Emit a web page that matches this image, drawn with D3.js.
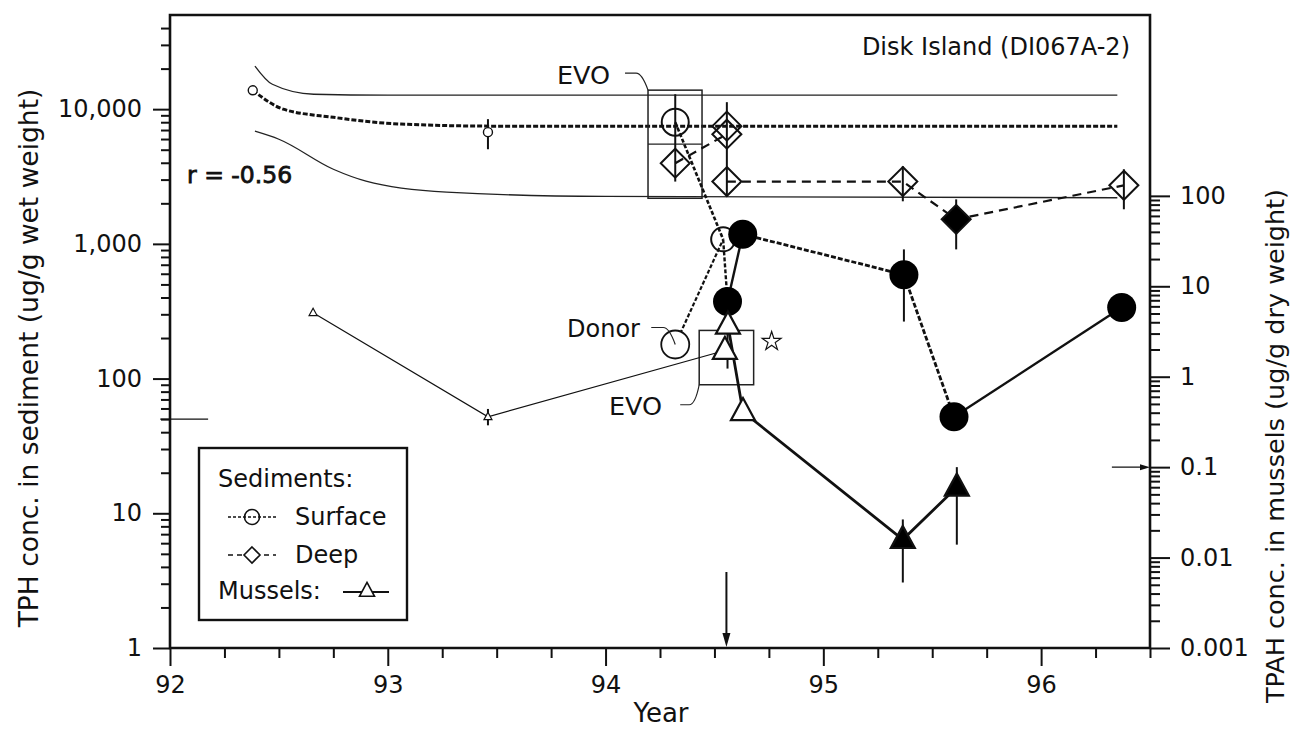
<!DOCTYPE html>
<html>
<head>
<meta charset="utf-8">
<script src="https://cdnjs.cloudflare.com/ajax/libs/d3/7.8.5/d3.min.js"></script>
<style>
body { margin: 0; background: #fff; }
text { font-family: "DejaVu Sans", "Liberation Sans", Arial, sans-serif; fill: #111; }
</style>
</head>
<body>
<svg id="chart" width="1293" height="729"></svg>
<script>
// axes
var xTicks = [92, 93, 94, 95, 96];
var leftTicks = [1, 10, 100, 1000, 10000];
var leftLabels = ["1", "10", "100", "1,000", "10,000"];
var rightTicks = [0.001, 0.01, 0.1, 1, 10, 100];
var rightLabels = ["0.001", "0.01", "0.1", "1", "10", "100"];

// TPH regression fit and confidence band
var fitYears = [92.38, 92.52, 92.75, 93.06, 93.5, 96.35];
var fitValues = [13800, 10000, 8700, 7750, 7480, 7480];
var upperYears = [92.39, 92.47, 92.66, 93.0, 96.35];
var upperValues = [20900, 15300, 12900, 12700, 12700];
var lowerYears = [92.39, 92.5, 92.75, 92.9, 93.27, 94.0, 96.35];
var lowerValues = [6860, 5980, 3580, 2920, 2420, 2250, 2200];

// surface sediments (TPH, left axis)
var smallSurfYears = [92.38, 93.46];
var smallSurfValues = [13800, 6750];
var surfYears = [94.32, 94.54];
var surfValues = [8000, 1080];
var donorYears = [94.32, 94.54];
var donorValues = [179, 1080];
var filledYears = [94.54, 94.56, 94.63, 95.37, 95.60, 96.37];
var filledValues = [1080, 374, 1180, 590, 52, 337];

// deep sediments
var deepYears = [94.32, 94.557, 94.557, 94.557, 95.365, 95.61, 96.38];
var deepValues = [3970, 6520, 7480, 2900, 2900, 1520, 2720];
var deepFilled = [0, 0, 0, 0, 0, 1, 0];
var deepRuns = [[0, 1], [3, 4, 5, 6]];

// mussels (TPAH, right axis)
var musselYears = [92.657, 93.46, 94.548, 94.562, 94.631, 95.365, 95.613];
var musselValues = [5.1, 0.36, 1.95, 3.7, 0.41, 0.0158, 0.06];
var musselFilled = [0, 0, 0, 0, 0, 1, 1];
var musselSmall = [1, 1, 0, 0, 0, 0, 0];
var musselThin = [0, 1, 2];
var musselThick = [3, 4, 5, 6];

// error bars
var sedErrYears = [93.46, 94.32, 94.557, 95.365, 95.61, 96.38, 95.37];
var sedErrLow = [5040, 2900, 2256, 2070, 910, 1806, 265];
var sedErrHigh = [8430, 12900, 11270, 3770, 2140, 3580, 910];
var musErrYears = [93.46, 94.56, 95.365, 95.613];
var musErrLow = [0.29, 1.23, 0.0053, 0.0139];
var musErrHigh = [0.44, 7.0, 0.0264, 0.1];

// EVO boxes
var evoSedBox = { years: [94.195, 94.443], values: [2180, 13840], mid: 5495 };
var evoMusBox = { years: [94.43, 94.68], values: [0.815, 3.25] };

var svg = d3.select("#chart");
var x = d3.scaleLinear().domain([92, 96.5]).range([170, 1150]);
var yL = d3.scaleLog().domain([1, 50000]).range([648, 15]);
var yR = d3.scaleLog().domain([0.001, 10000]).range([648, 15]);

// ---- axes
var minorX = d3.range(92, 96.51, 0.25).filter(function(d) { return d % 1 !== 0; });
svg.append("g").attr("transform", "translate(0,648)")
    .call(d3.axisBottom(x).tickValues(minorX).tickSize(10).tickFormat(""));
svg.append("g").attr("class", "xmaj").attr("transform", "translate(0,648)")
    .call(d3.axisBottom(x).tickValues(xTicks).tickSize(18).tickPadding(10).tickFormat(d3.format("d")));

var minorL = [];
[1, 10, 100, 1000, 10000].forEach(function(dec) {
    for (var m = 2; m <= 9; m++) if (dec * m < 50000) minorL.push(dec * m);
});
svg.append("g").attr("transform", "translate(170,0)")
    .call(d3.axisLeft(yL).tickValues(minorL).tickSize(9).tickFormat(""));
svg.append("g").attr("transform", "translate(170,0)")
    .call(d3.axisLeft(yL).tickValues(leftTicks).tickSize(17).tickPadding(11)
        .tickFormat(function(d, i) { return leftLabels[i]; }));

var minorR = [];
[0.001, 0.01, 0.1, 1, 10].forEach(function(dec) {
    for (var m = 2; m <= 9; m++) minorR.push(dec * m);
});
svg.append("g").attr("transform", "translate(1150,0)")
    .call(d3.axisRight(yR).tickValues(minorR).tickSize(10).tickFormat(""));
svg.append("g").attr("transform", "translate(1150,0)")
    .call(d3.axisRight(yR).tickValues(rightTicks).tickSize(20).tickPadding(10)
        .tickFormat(function(d, i) { return rightLabels[i]; }));

svg.selectAll(".domain").remove();
svg.selectAll(".tick line").attr("stroke", "#111").attr("stroke-width", 2);
svg.selectAll(".tick text").style("font-size", "24px").attr("fill", "#111");

// frame
svg.append("path")
    .attr("d", "M" + x(92) + "," + yL(50000) + "H" + x(96.5) + "V" + yL(1) + "H" + x(92) + "Z")
    .attr("fill", "none").attr("stroke", "#111").attr("stroke-width", 2.6);

// axis titles
svg.append("text").attr("x", 661).attr("y", 722).attr("text-anchor", "middle")
    .style("font-size", "26px").text("Year");
svg.append("text").attr("transform", "translate(38,358) rotate(-90)").attr("text-anchor", "middle")
    .style("font-size", "26.5px").text("TPH conc. in sediment (ug/g wet weight)");
svg.append("text").attr("transform", "translate(1284,446) rotate(-90)").attr("text-anchor", "middle")
    .style("font-size", "25.5px").text("TPAH conc. in mussels (ug/g dry weight)");

// ---- regression and band
var curve = function(ys, vs) {
    return d3.line().curve(d3.curveMonotoneX)
        .x(function(d, i) { return x(ys[i]); })
        .y(function(d, i) { return yL(vs[i]); })(ys);
};
svg.append("path").attr("d", curve(upperYears, upperValues))
    .attr("fill", "none").attr("stroke", "#222").attr("stroke-width", 1.3);
svg.append("path").attr("d", curve(lowerYears, lowerValues))
    .attr("fill", "none").attr("stroke", "#222").attr("stroke-width", 1.3);
svg.append("path").attr("d", curve(fitYears, fitValues))
    .attr("fill", "none").attr("stroke", "#111").attr("stroke-width", 3).attr("stroke-dasharray", "5,2");

// ---- EVO boxes
function box(b, ys) {
    svg.append("rect")
        .attr("x", x(b.years[0])).attr("width", x(b.years[1]) - x(b.years[0]))
        .attr("y", ys(b.values[1])).attr("height", ys(b.values[0]) - ys(b.values[1]))
        .attr("fill", "none").attr("stroke", "#222").attr("stroke-width", 1.5);
    if (b.mid) svg.append("line")
        .attr("x1", x(b.years[0])).attr("x2", x(b.years[1]))
        .attr("y1", ys(b.mid)).attr("y2", ys(b.mid))
        .attr("stroke", "#222").attr("stroke-width", 1.3);
}
box(evoSedBox, yL);
box(evoMusBox, yR);

// ---- connecting lines
function drawLine(ys, vs, sc, idx, width, dash) {
    var p = svg.append("path")
        .attr("d", d3.line().x(function(i) { return x(ys[i]); }).y(function(i) { return sc(vs[i]); })(idx))
        .attr("fill", "none").attr("stroke", "#111").attr("stroke-width", width);
    if (dash) p.attr("stroke-dasharray", dash);
}
drawLine(surfYears, surfValues, yL, [0, 1], 2.6, "4,2");
drawLine(donorYears, donorValues, yL, [0, 1], 2.2, "4,2");
drawLine(filledYears, filledValues, yL, [0, 1], 2.4, "4,2");
drawLine(filledYears, filledValues, yL, [1, 2], 2.4);
drawLine(filledYears, filledValues, yL, [2, 3, 4], 2.8, "5,2");
drawLine(filledYears, filledValues, yL, [4, 5], 2.4);
deepRuns.forEach(function(r) { drawLine(deepYears, deepValues, yL, r, 2.2, "9,6"); });
drawLine(musselYears, musselValues, yR, musselThin, 1.2);
drawLine(musselYears, musselValues, yR, musselThick, 2.8);

// ---- error bars
sedErrYears.forEach(function(yr, i) {
    svg.append("line").attr("x1", x(yr)).attr("x2", x(yr))
        .attr("y1", yL(sedErrLow[i])).attr("y2", yL(sedErrHigh[i]))
        .attr("stroke", "#111").attr("stroke-width", 2);
});
musErrYears.forEach(function(yr, i) {
    svg.append("line").attr("x1", x(yr)).attr("x2", x(yr))
        .attr("y1", yR(musErrLow[i])).attr("y2", yR(musErrHigh[i]))
        .attr("stroke", "#111").attr("stroke-width", 2);
});

// ---- markers
function diamond(r) { return "M0," + (-r) + "L" + r + ",0L0," + r + "L" + (-r) + ",0Z"; }
function tri(w) { var h = w * 0.92; return "M0," + (-h * 0.62) + "L" + (w / 2) + "," + (h * 0.38) + "L" + (-w / 2) + "," + (h * 0.38) + "Z"; }

svg.selectAll(".ssurf").data(smallSurfYears).enter().append("circle")
    .attr("cx", function(d) { return x(d); })
    .attr("cy", function(d, i) { return yL(smallSurfValues[i]); })
    .attr("r", 4.5).attr("fill", "#fff").attr("stroke", "#111").attr("stroke-width", 1.4);

svg.selectAll(".surf").data(surfYears).enter().append("circle")
    .attr("cx", function(d) { return x(d); })
    .attr("cy", function(d, i) { return yL(surfValues[i]); })
    .attr("r", function(d, i) { return i === 0 ? 13.5 : 12; })
    .attr("fill", "none").attr("stroke", "#111").attr("stroke-width", 2);
svg.append("circle").attr("cx", x(donorYears[0])).attr("cy", yL(donorValues[0]))
    .attr("r", 14).attr("fill", "#fff").attr("stroke", "#111").attr("stroke-width", 1.8);

svg.selectAll(".filled").data(filledYears.slice(1)).enter().append("circle")
    .attr("cx", function(d) { return x(d); })
    .attr("cy", function(d, i) { return yL(filledValues[i + 1]); })
    .attr("r", 14.5).attr("fill", "#000");

svg.selectAll(".deep").data(deepYears).enter().append("path")
    .attr("transform", function(d, i) { return "translate(" + x(d) + "," + yL(deepValues[i]) + ")"; })
    .attr("d", diamond(14.5))
    .attr("fill", function(d, i) { return deepFilled[i] ? "#000" : "none"; })
    .attr("stroke", "#111").attr("stroke-width", 2);

svg.selectAll(".mus").data(musselYears).enter().append("path")
    .attr("transform", function(d, i) { return "translate(" + x(d) + "," + yR(musselValues[i]) + ")"; })
    .attr("d", function(d, i) { return tri(musselSmall[i] ? 8 : 24); })
    .attr("fill", function(d, i) { return musselFilled[i] ? "#000" : "#fff"; })
    .attr("stroke", "#111").attr("stroke-width", function(d, i) { return musselSmall[i] ? 1.2 : 2.2; });

// ---- annotations
svg.append("text").attr("x", 1130).attr("y", 55).attr("text-anchor", "end")
    .style("font-size", "24px").text("Disk Island (DI067A-2)");
svg.append("text").attr("x", 187).attr("y", 183)
    .style("font-size", "23.5px").attr("stroke", "#111").attr("stroke-width", 0.8)
    .text("r = -0.56");

var bx0 = x(evoSedBox.years[0]), by0 = yL(evoSedBox.values[1]);
svg.append("text").attr("x", 557).attr("y", 84).style("font-size", "25.5px").text("EVO");
svg.append("path").attr("d", "M" + (bx0 - 23) + "," + (by0 - 17) + "H" + (bx0 - 12) + "Q" + (bx0 - 6) + "," + (by0 - 17) + " " + bx0 + "," + by0)
    .attr("fill", "none").attr("stroke", "#222").attr("stroke-width", 1.2);

var mx0 = x(evoMusBox.years[0]), my0 = yR(evoMusBox.values[0]);
svg.append("text").attr("x", 609).attr("y", 415).style("font-size", "25.5px").text("EVO");
svg.append("path").attr("d", "M" + (mx0 - 19) + "," + (my0 + 20) + "H" + (mx0 - 10) + "Q" + (mx0 - 4) + "," + (my0 + 20) + " " + mx0 + "," + my0)
    .attr("fill", "none").attr("stroke", "#222").attr("stroke-width", 1.2);

var dx0 = x(donorYears[0]), dy0 = yL(donorValues[0]);
svg.append("text").attr("x", 567).attr("y", 337).style("font-size", "24px").text("Donor");
svg.append("path").attr("d", "M" + (dx0 - 24) + "," + (dy0 - 17) + "H" + (dx0 - 12) + "Q" + (dx0 - 6) + "," + (dy0 - 17) + " " + dx0 + "," + dy0)
    .attr("fill", "none").attr("stroke", "#222").attr("stroke-width", 1.2);

svg.append("path").attr("d", d3.symbol().type(d3.symbolStar).size(110)())
    .attr("transform", "translate(" + (x(evoMusBox.years[1]) + 18) + "," + (yR(evoMusBox.values[1]) + 11) + ")")
    .attr("fill", "none").attr("stroke", "#111").attr("stroke-width", 1.2);

// event arrow and reference marks
var arrowX = x(94.555);
svg.append("line").attr("x1", arrowX).attr("x2", arrowX).attr("y1", 572).attr("y2", 640)
    .attr("stroke", "#111").attr("stroke-width", 2);
svg.append("path").attr("d", "M" + (arrowX - 4) + ",633L" + arrowX + ",647L" + (arrowX + 4) + ",633Z").attr("fill", "#111");

svg.append("line").attr("x1", x(91.955)).attr("x2", x(92.175)).attr("y1", yL(50)).attr("y2", yL(50))
    .attr("stroke", "#111").attr("stroke-width", 1.4);
svg.append("line").attr("x1", x(96.325)).attr("x2", x(96.5) - 6).attr("y1", yR(0.1)).attr("y2", yR(0.1))
    .attr("stroke", "#111").attr("stroke-width", 1.4);
svg.append("path").attr("d", "M" + (x(96.5) - 10) + "," + (yR(0.1) - 3) + "L" + x(96.5) + "," + yR(0.1) + "L" + (x(96.5) - 10) + "," + (yR(0.1) + 3) + "Z").attr("fill", "#111");

// ---- legend
var lg = svg.append("g");
lg.append("rect").attr("x", 199).attr("y", 448).attr("width", 208).attr("height", 172)
    .attr("fill", "#fff").attr("stroke", "#111").attr("stroke-width", 2.4);
lg.append("text").attr("x", 218).attr("y", 487).style("font-size", "24px").text("Sediments:");
lg.append("text").attr("x", 295).attr("y", 525).style("font-size", "24px").text("Surface");
lg.append("text").attr("x", 295).attr("y", 563).style("font-size", "24px").text("Deep");
lg.append("text").attr("x", 218).attr("y", 599).style("font-size", "24px").text("Mussels:");
lg.append("line").attr("x1", 228).attr("x2", 276).attr("y1", 517).attr("y2", 517)
    .attr("stroke", "#111").attr("stroke-width", 1.6).attr("stroke-dasharray", "3,2");
lg.append("circle").attr("cx", 252).attr("cy", 517).attr("r", 7.5)
    .attr("fill", "none").attr("stroke", "#111").attr("stroke-width", 1.6);
lg.append("line").attr("x1", 228).attr("x2", 276).attr("y1", 555).attr("y2", 555)
    .attr("stroke", "#111").attr("stroke-width", 1.6).attr("stroke-dasharray", "5,4");
lg.append("path").attr("transform", "translate(252,555)").attr("d", diamond(8))
    .attr("fill", "#fff").attr("stroke", "#111").attr("stroke-width", 1.6);
lg.append("line").attr("x1", 343).attr("x2", 389).attr("y1", 592).attr("y2", 592)
    .attr("stroke", "#111").attr("stroke-width", 1.8);
lg.append("path").attr("transform", "translate(367,591)").attr("d", tri(15))
    .attr("fill", "#fff").attr("stroke", "#111").attr("stroke-width", 1.6);
</script>
</body>
</html>
